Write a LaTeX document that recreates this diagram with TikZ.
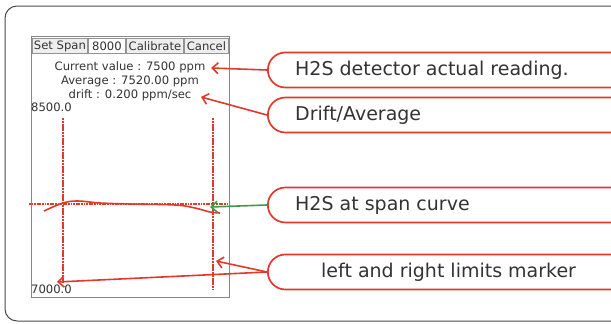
\documentclass[tikz,border=0pt]{standalone}
\usepackage{fontspec}
\setmainfont{DejaVu Sans}
\usetikzlibrary{shapes.misc,arrows.meta}
\definecolor{cred}{HTML}{E03A2C}
\definecolor{cgreen}{HTML}{3C9A4C}
\definecolor{txt}{HTML}{333333}
\definecolor{frame}{HTML}{4A4A4A}
\begin{document}
\begin{tikzpicture}[x=1pt,y=-1pt,
 callout/.style={draw=cred, line width=1.7pt, fill=white, rounded rectangle, rounded rectangle right arc=none, minimum height=35pt, minimum width=380pt, anchor=west, inner sep=0pt},
 ctext/.style={font=\fontsize{19}{21}\selectfont, text=txt, anchor=west, inner sep=0pt},
 ptext/.style={font=\fontsize{11.6}{13}\selectfont, text=txt, inner sep=0pt},
 btn/.style={draw=gray!85, fill=gray!13, line width=0.9pt, font=\fontsize{11.6}{13}\selectfont, text=txt, minimum height=15pt, inner sep=0pt, anchor=west},
 marker/.style={draw=cred, line width=2.4pt, dash pattern=on 2.2pt off 0.6pt},
 arr/.style={draw=cred, line width=1.6pt, -{Straight Barb[length=6pt,width=11pt]}},
]
\useasboundingbox (0,0) rectangle (611,324);
\begin{scope}
\clip (0,0) rectangle (611,324);
\draw[frame, line width=1pt, rounded corners=12pt] (5,6) rectangle (660,321);

% panel
\node[draw=gray!95, line width=1.2pt, fill=white, minimum width=198pt, minimum height=261pt, anchor=north west, inner sep=0pt] (panel) at (31,36) {};
\node[btn, minimum width=55pt] (bset) at (32,46) {Set Span};
\node[btn, minimum width=37pt, fill=white] (bval) at (88,46) {8000};
\node[btn, minimum width=57pt] (bcal) at (126,46) {Calibrate};
\node[btn, minimum width=44pt] (bcan) at (184,46) {Cancel};

\node[ptext] (cur) at (130,67) {Current value : 7500 ppm};
\node[ptext] (avg) at (130,81) {Average : 7520.00 ppm};
\node[ptext] (dft) at (130,95) {drift : 0.200 ppm/sec};
\node[ptext, anchor=west] (ymax) at (31,107) {8500.0};
\node[ptext, anchor=west] (ymin) at (31,289) {7000.0};

% markers
\coordinate (l1) at (63,118); \coordinate (l2) at (63,283);
\coordinate (r1) at (213,118); \coordinate (r2) at (213,290);
\coordinate (h1) at (29,204); \coordinate (h2) at (229,204);
\draw[marker] (l1) -- (l2);
\draw[marker] (r1) -- (r2);
\draw[draw=cred, line width=1.3pt, dash pattern=on 1.8pt off 0.8pt] (h1) -- (h2);
\draw[cred, line width=1.6pt] plot[smooth, tension=0.6] coordinates {(44,211) (63,203) (78,201) (100,203) (130,204) (175,205) (195,208) (210,212) (220,213)};

% callouts
\node[callout] (c1) at (267,70) {};
\node[callout] (c2) at (267,115) {};
\node[callout] (c3) at (267,205) {};
\node[callout] (c4) at (267,272) {};
\node[ctext] (t1) at (295,70) {H2S detector actual reading.};
\node[ctext] (t2) at (295,115) {Drift/Average};
\node[ctext] (t3) at (295,205) {H2S at span curve};
\node[ctext] (t4) at (321,272) {left and right limits marker};

% connectors
\coordinate (a1) at (211,68);
\coordinate (a2) at (201,97);
\coordinate (a3) at (210,207);
\coordinate (a4) at (216,261);
\coordinate (a5) at (57,282);
\draw[arr] (c1.west) -- (a1);
\draw[arr] (c2.west) -- (a2);
\draw[arr, draw=cgreen] (c3.west) -- (a3);
\draw[arr] (c4.west) -- (a4);
\draw[arr] (c4.west) -- (a5);
\end{scope}
\end{tikzpicture}
\end{document}
